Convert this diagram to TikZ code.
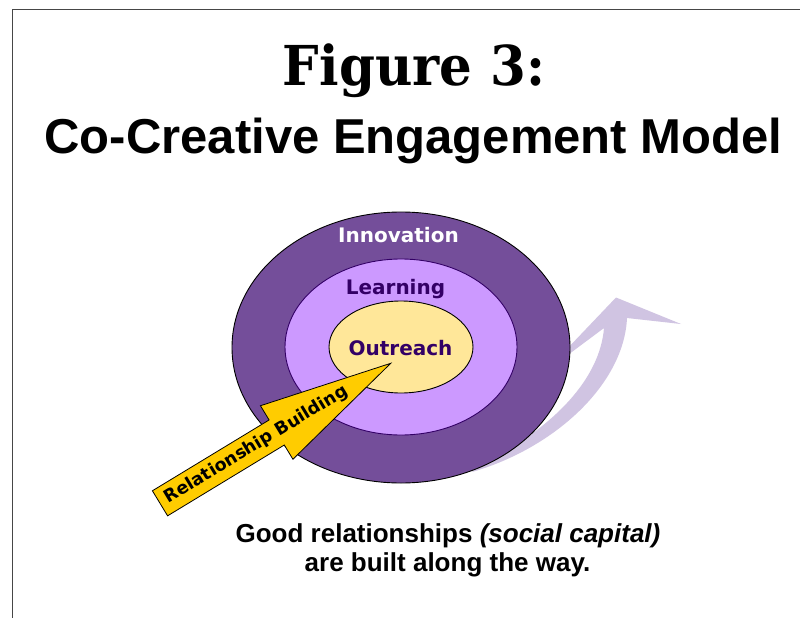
\documentclass[tikz,border=0pt]{standalone}
\usepackage{fontspec}
\usepackage{graphicx}
\setmainfont{Liberation Sans}
\newfontfamily\labelfont{DejaVu Sans}
\newfontfamily\figfont{DejaVu Serif}
\usetikzlibrary{shapes.geometric}

\definecolor{framegray}{RGB}{70,70,70}
\definecolor{ringdark}{RGB}{116,78,154}
\definecolor{ringmid}{RGB}{204,153,255}
\definecolor{ringcore}{RGB}{255,231,153}
\definecolor{inkpurple}{RGB}{51,0,102}
\definecolor{lavender}{RGB}{208,196,226}
\definecolor{arrowgold}{RGB}{255,204,0}

\begin{document}
\begin{tikzpicture}[x=1pt,y=-1pt,
  ring/.style={ellipse, inner sep=0pt, outer sep=0pt, line width=0.9pt},
  ringlabel/.style={font={\labelfont\bfseries\fontsize{20}{24}\selectfont},
                    anchor=base, inner sep=0pt},
  textline/.style={anchor=base, inner sep=0pt}]

\useasboundingbox (0,0) rectangle (800,618);
\fill[white] (0,0) rectangle (800,618);

% page frame: top and left rules
\coordinate (frameBL) at (12.5,618);
\coordinate (frameTL) at (12.5,9.5);
\coordinate (frameTR) at (800,9.5);
\draw[framegray, line width=1.6pt] (frameBL) -- (frameTL) -- (frameTR);

% headings
\node[textline] (title) at (414,85)
  {\resizebox{262pt}{\height}{\figfont\bfseries\fontsize{55}{60}\selectfont Figure 3:}};
\node[textline, font={\bfseries\fontsize{49}{56}\selectfont}] (subtitle) at (413.5,153) {Co-Creative Engagement Model};

% sweeping lavender arrow behind the rings
\fill[lavender] (472,472) .. controls (555,448) and (624,384) .. (627,318)
  -- (681,324) -- (616,297.5) -- (545,372) -- (604,328)
  .. controls (600,378) and (555,428) .. (478,466) -- cycle;

% concentric rings
\node[ring, draw=black, fill=ringdark, minimum width=338pt, minimum height=271pt] (innovation) at (401,347.5) {};
\node[ring, draw=inkpurple, fill=ringmid, minimum width=232pt, minimum height=176pt] (learning) at (401,347) {};
\node[ring, draw=black, fill=ringcore, minimum width=144pt, minimum height=92pt] (outreach) at (401,347) {};

\node[ringlabel, text=white] (innovationtext) at (398.5,242.5) {Innovation};
\node[ringlabel, text=inkpurple] (learningtext) at (395.5,294) {Learning};
\node[ringlabel, text=inkpurple] (outreachtext) at (400.5,355) {Outreach};

% relationship-building block arrow
\begin{scope}[shift={(160,503.3)}, rotate=31.25]
  \draw[fill=arrowgold, line width=0.8pt, line join=miter]
    (0,14.65) -- (136.5,14.65) -- (136.5,31.3) -- (269.9,0)
    -- (136.5,-31.3) -- (136.5,-14.65) -- (0,-14.65) -- cycle;
  \node[rotate=31.25, inner sep=0pt, font={\labelfont\bfseries\fontsize{17.5}{20}\selectfont}]
    (relationship) at (113,0) {Relationship Building};
\end{scope}

% caption
\node[textline, font={\bfseries\fontsize{26}{30}\selectfont}] (caption1) at (448,542.5)
  {Good relationships \textit{(social capital)}};
\node[textline, font={\bfseries\fontsize{26}{30}\selectfont}] (caption2) at (447.5,571.5)
  {are built along the way.};

\end{tikzpicture}
\end{document}
